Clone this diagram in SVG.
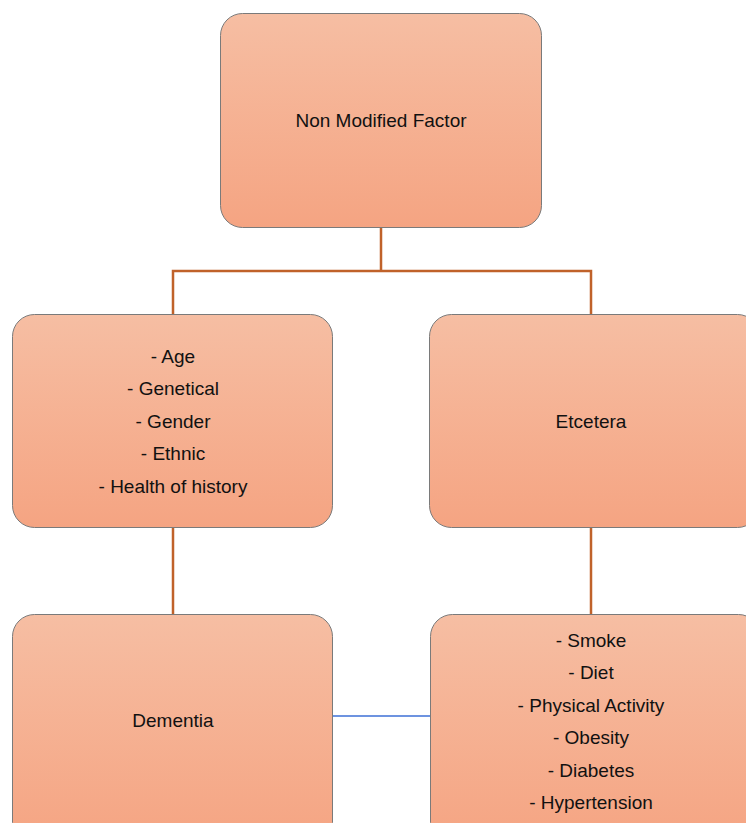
<svg xmlns="http://www.w3.org/2000/svg" width="746" height="823" viewBox="0 0 746 823">
<style>
.box{fill:url(#g);stroke:#7a7a7a;stroke-width:1}
.t{font-family:"Liberation Sans",Arial,sans-serif;font-size:19px;fill:#111;text-anchor:middle}
.c{fill:none;stroke:#c0622a;stroke-width:2.5}
.b{fill:none;stroke:#3c6fd6;stroke-width:1.3}
</style>
<defs>
<linearGradient id="g" x1="0" y1="0" x2="0" y2="1">
<stop offset="0" stop-color="#f6bea3"/>
<stop offset="1" stop-color="#f5a482"/>
</linearGradient>
</defs>
<g id="connectors">
<path class="c" d="M381,228 V271 M173,314 V271 H591 V314"/>
<path class="c" d="M173,528 V614"/>
<path class="c" d="M591,528 V614"/>
<path class="b" d="M330,716 H435"/>
</g>
<g id="top">
<rect class="box" x="220.5" y="13.5" width="321" height="214" rx="22"/>
<text class="t" x="381" y="127">Non Modified Factor</text>
</g>
<g id="nonmod">
<rect class="box" x="12.5" y="314.5" width="320" height="213" rx="22"/>
<text class="t" x="173" y="362.5">- Age</text>
<text class="t" x="173" y="395">- Genetical</text>
<text class="t" x="173" y="427.5">- Gender</text>
<text class="t" x="173" y="460">- Ethnic</text>
<text class="t" x="173" y="492.5">- Health of history</text>
</g>
<g id="etc">
<rect class="box" x="429.5" y="314.5" width="330" height="213" rx="22"/>
<text class="t" x="591" y="427.5">Etcetera</text>
</g>
<g id="dementia">
<rect class="box" x="12.5" y="614.5" width="320" height="230" rx="22"/>
<text class="t" x="173" y="726.5">Dementia</text>
</g>
<g id="modifiable">
<rect class="box" x="430.5" y="614.5" width="330" height="230" rx="22"/>
<text class="t" x="591" y="646.5">- Smoke</text>
<text class="t" x="591" y="679">- Diet</text>
<text class="t" x="591" y="711.5">- Physical Activity</text>
<text class="t" x="591" y="744">- Obesity</text>
<text class="t" x="591" y="776.5">- Diabetes</text>
<text class="t" x="591" y="809">- Hypertension</text>
</g>
</svg>
